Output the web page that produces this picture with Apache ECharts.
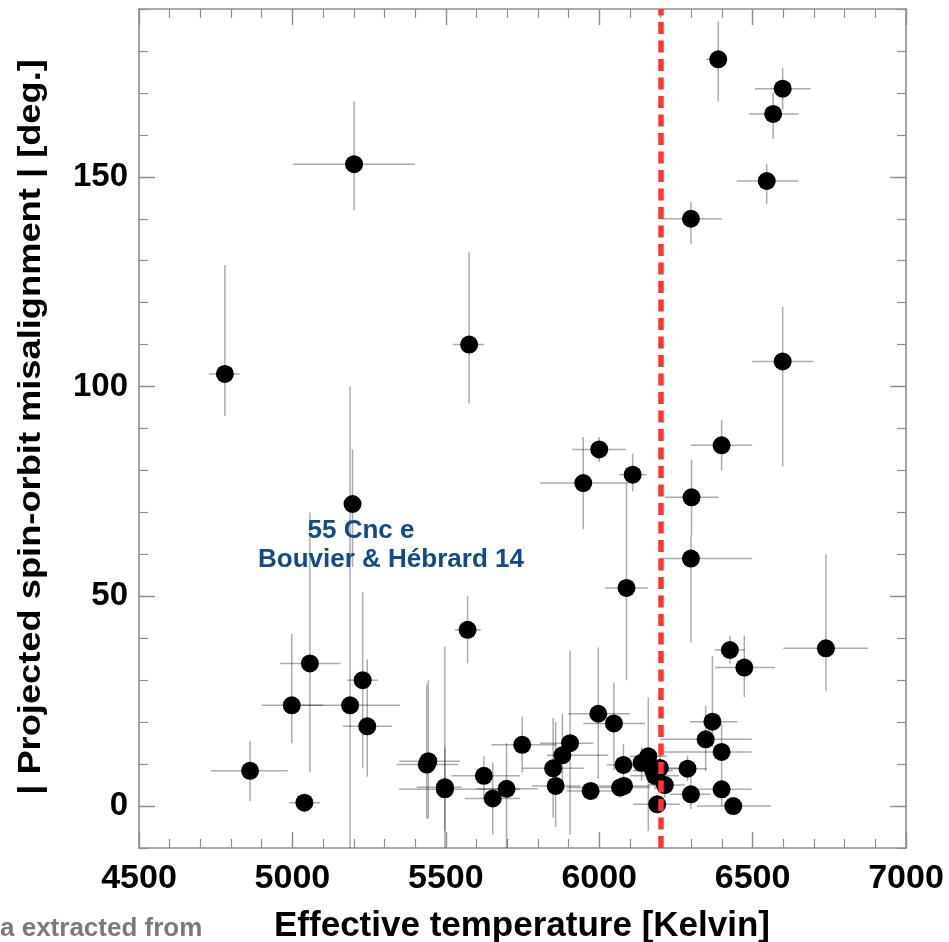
<!DOCTYPE html>
<html>
<head>
<meta charset="utf-8">
<script src="https://cdn.jsdelivr.net/npm/echarts@6/dist/echarts.min.js"></script>
<style>
  html, body { margin: 0; padding: 0; background: #ffffff; }
  #chart { width: 949px; height: 942px; }
</style>
</head>
<body>
<div id="chart"></div>
<script>
// Host star effective temperature [K] with its uncertainty range
const teff     = [4780, 5201, 5576, 6388, 6598, 6567, 6546, 6299, 6598, 5948, 6000, 6109, 6089, 6399, 6301, 6299, 5196, 5571, 6426, 6473, 6739,
                  5057, 4998, 5188, 5229, 5244, 4862, 5039, 5443, 5438, 5497, 5497, 5624, 5653, 5698, 5749, 5850, 5858, 5880, 5905, 5972,
                  5997, 6048, 6068, 6081, 6079, 6138, 6160, 6176, 6182, 6198, 6214, 6189, 6288, 6299, 6347, 6369, 6399, 6399, 6437];
const teffLow  = [4728, 5002, 5523, 6350, 6508, 6488, 6448, 6203, 6499, 5807, 5912, 6065, 6019, 6299, 6214, 6198, 5196, 5530, 6377, 6377, 6600,
                  4960, 4900, 5030, 5178, 5165, 4735, 4990, 5348, 5340, 5348, 5405, 5519, 5562, 5600, 5649, 5750, 5780, 5829, 5807, 5894,
                  5899, 5948, 5894, 6000, 6024, 6110, 6100, 6110, 6100, 6150, 6160, 6111, 6220, 6231, 6198, 6296, 6208, 6306, 6318];
const teffHigh = [4829, 5400, 5625, 6415, 6689, 6649, 6649, 6399, 6698, 6094, 6087, 6154, 6160, 6499, 6390, 6499, 5196, 5614, 6475, 6573, 6876,
                  5157, 5101, 5351, 5279, 5325, 4985, 5090, 5546, 5541, 5742, 5552, 5742, 5742, 5800, 5861, 5950, 5938, 6030, 5981, 6100,
                  6100, 6149, 6166, 6160, 6122, 6221, 6220, 6240, 6260, 6260, 6280, 6263, 6350, 6362, 6497, 6451, 6497, 6497, 6560];

// Projected spin-orbit angle |lambda| [deg] with its uncertainty range
const lambda     = [103, 153, 110, 178, 171, 165, 149, 140, 106, 77, 85, 79, 52, 86, 73.6, 59, 72, 42, 37.2, 33, 37.6,
                    34, 24, 24, 30, 19, 8.4, 0.8, 10.7, 9.9, 4, 4.5, 7.2, 1.8, 4.1, 14.6, 9, 4.8, 12.1, 15, 3.6,
                    22, 19.7, 4.4, 4.8, 9.8, 10.3, 11.9, 8.4, 7.2, 9.1, 5.0, 0.4, 8.9, 2.8, 15.9, 20.1, 12.9, 4.0, 0];
const lambdaLow  = [93, 142, 96, 168, 166, 159, 143.5, 134, 81, 66, 82, 75, 30, 80, 64.5, 39, 57, 34, 34, 26, 27.5,
                    8, 15, -12, 9, 7, 1.2, 0.8, -3, -3, -12, -6, 1.7, -6.8, -10, 8, -2.8, -5, 4, -6.8, 2,
                    6.4, 8.4, 2, 3, 4.3, 6, -6, 5, 4, 6, 2, -1, 6, -0.7, 8.4, 14, 8, 0, -2];
const lambdaHigh = [129, 168, 132, 187, 176, 170, 153, 144, 119, 88, 88, 84, 77, 92, 82.6, 64.5, 85, 50, 40.6, 40.6, 60,
                    70, 41, 100, 51, 35, 15.5, 0.8, 30, 29, 38, 14, 11.9, 10.3, 15, 21.3, 21, 20, 22, 37, 5,
                    37.8, 29.4, 7, 7, 14.8, 14, 25.9, 12, 10, 13, 8, 2, 12, 6.8, 23.9, 35.8, 19.6, 8, 2];

// Temperature boundary marked by the dashed line
const teffBoundary = [6200];

// Axis ranges and labelled ticks
const xRange = [4500, 7000];
const yRange = [-10, 190];
const yLabelValues = [0, 50, 100, 150];

const points = teff.map((t, i) => [t, lambda[i]]);
const errorRows = teff.map((t, i) => [t, teffLow[i], teffHigh[i], lambda[i], lambdaLow[i], lambdaHigh[i]]);

const FONT = "'Liberation Sans', Arial, Helvetica, sans-serif";
const FRAME = '#8e8e8e';

const frameLine = { show: true, onZero: false, lineStyle: { color: FRAME, width: 1.6 } };

function xAxisDef(pos, labels) {
  return {
    type: 'value', position: pos, min: xRange[0], max: xRange[1], interval: 500,
    axisLine: frameLine,
    axisTick: { show: true, inside: true, length: 16, lineStyle: { color: FRAME, width: 1.4 } },
    minorTick: { show: true, splitNumber: 5, length: 9, lineStyle: { color: FRAME, width: 1.2 } },
    axisLabel: labels ? { show: true, margin: 14, color: '#000', fontFamily: FONT, fontWeight: 'bold', fontSize: 34,
                          formatter: v => String(v) } : { show: false },
    splitLine: { show: false }, minorSplitLine: { show: false }
  };
}
function yMajorDef(pos, labels) {
  return {
    type: 'value', position: pos, min: yRange[0], max: yRange[1],
    axisLine: frameLine,
    axisTick: { show: true, inside: true, length: 16, customValues: yLabelValues, lineStyle: { color: FRAME, width: 1.4 } },
    axisLabel: labels ? { show: true, customValues: yLabelValues, margin: 11, color: '#000', fontFamily: FONT, fontWeight: 'bold', fontSize: 33,
                          formatter: v => String(v) } : { show: false },
    splitLine: { show: false }
  };
}
function yMinorDef(pos) {
  return {
    type: 'value', position: pos, min: yRange[0], max: yRange[1], interval: 10,
    axisLine: { show: false, onZero: false },
    axisTick: { show: true, inside: true, length: 9, lineStyle: { color: FRAME, width: 1.2 } },
    axisLabel: { show: false },
    splitLine: { show: false }
  };
}

const chart = echarts.init(document.getElementById('chart'), null, { renderer: 'canvas' });

chart.setOption({
  backgroundColor: '#ffffff',
  animation: false,
  grid: { left: 139, right: 43, top: 9, bottom: 94, containLabel: false },
  xAxis: [xAxisDef('bottom', true), xAxisDef('top', false)],
  yAxis: [yMajorDef('left', true), yMinorDef('left'), yMajorDef('right', false), yMinorDef('right')],
  graphic: [
    {
      type: 'text', x: 31, y: 427, rotation: Math.PI / 2, scaleX: 1.17,
      style: { text: '| Projected spin-orbit misalignment | [deg.]', font: 'bold 31px ' + FONT, fill: '#000', align: 'center', verticalAlign: 'middle' }
    },
    {
      type: 'text', x: 522, y: 926,
      style: { text: 'Effective temperature [Kelvin]', font: 'bold 35px ' + FONT, fill: '#000', align: 'center', verticalAlign: 'middle' }
    },
    {
      type: 'text', x: 0, y: 929,
      style: { text: 'a extracted from', font: 'bold 26px ' + FONT, fill: '#7a7a7a', align: 'left', verticalAlign: 'middle' }
    },
    {
      type: 'text', x: 361, y: 531, z: 10,
      style: { text: '55 Cnc e', font: 'bold 26px ' + FONT, fill: '#134b8a', align: 'center', verticalAlign: 'middle' }
    },
    {
      type: 'text', x: 391, y: 560, z: 10,
      style: { text: 'Bouvier & Hébrard 14', font: 'bold 26px ' + FONT, fill: '#134b8a', align: 'center', verticalAlign: 'middle' }
    }
  ],
  series: [
    {
      // error bars in temperature and angle
      type: 'custom', xAxisIndex: 0, yAxisIndex: 0, clip: true, z: 2,
      data: errorRows,
      renderItem: function (params, api) {
        const t = api.value(0), tl = api.value(1), th = api.value(2);
        const l = api.value(3), ll = api.value(4), lh = api.value(5);
        const a = api.coord([tl, l]), b = api.coord([th, l]);
        const c = api.coord([t, ll]), d = api.coord([t, lh]);
        const st = { stroke: 'rgba(0,0,0,0.33)', lineWidth: 1.5 };
        const kids = [];
        if (th > tl) kids.push({ type: 'line', shape: { x1: a[0], y1: a[1], x2: b[0], y2: b[1] }, style: st });
        if (lh > ll) kids.push({ type: 'line', shape: { x1: c[0], y1: c[1], x2: d[0], y2: d[1] }, style: st });
        return { type: 'group', children: kids };
      }
    },
    {
      type: 'scatter', xAxisIndex: 0, yAxisIndex: 0, z: 3,
      symbol: 'circle', symbolSize: 18,
      itemStyle: { color: '#000', opacity: 1 },
      data: points
    },
    {
      // dashed temperature boundary
      type: 'line', xAxisIndex: 0, yAxisIndex: 0, z: 6, data: [],
      markLine: {
        silent: true, symbol: ['none', 'none'], animation: false,
        label: { show: false },
        lineStyle: { color: '#ff3434', width: 5.5, type: [12, 6.5], opacity: 1 },
        data: teffBoundary.map(v => ({ xAxis: v }))
      }
    }
  ]
});
</script>
</body>
</html>
